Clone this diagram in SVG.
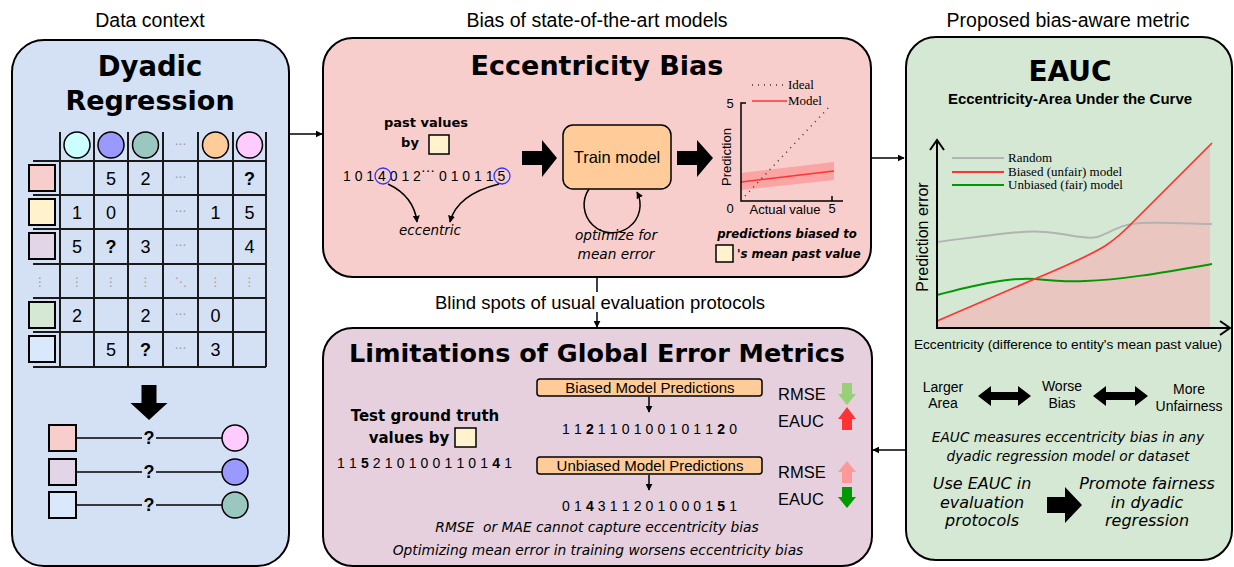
<svg xmlns="http://www.w3.org/2000/svg" width="1234" height="567" viewBox="0 0 1234 567">
<defs>
<marker id="ah" viewBox="0 0 10 10" refX="9" refY="5" markerWidth="7" markerHeight="7" orient="auto-start-reverse" markerUnits="userSpaceOnUse">
<path d="M0,0 L10,5 L0,10 Z" fill="#000"/>
</marker>
<marker id="ahs" viewBox="0 0 10 10" refX="9" refY="5" markerWidth="7" markerHeight="7" orient="auto" markerUnits="userSpaceOnUse">
<path d="M0,0 L10,5 L0,10 Z" fill="#000"/>
</marker>
</defs>
<style>
.hdr{font-family:"Liberation Sans",Arial,sans-serif;font-size:19.5px;fill:#000;text-anchor:middle}
.ttl{font-family:"DejaVu Sans",Verdana,sans-serif;font-weight:bold;fill:#000;text-anchor:middle}
.num{font-family:"Liberation Sans",Arial,sans-serif;font-size:18px;fill:#000;text-anchor:middle}
.q{font-family:"Liberation Sans",Arial,sans-serif;font-size:18px;font-weight:bold;fill:#000;text-anchor:middle}
.dot{font-family:"DejaVu Sans",sans-serif;font-size:12px;fill:#999;text-anchor:middle}
.grid{stroke:#1a1a1a;stroke-width:2;fill:none}
.sq{stroke:#000;stroke-width:2}
.it{font-family:"DejaVu Sans",Verdana,sans-serif;font-style:italic;fill:#000;text-anchor:middle}
.bd{font-family:"DejaVu Sans",Verdana,sans-serif;font-weight:bold;fill:#000;text-anchor:middle}
.sans{font-family:"Liberation Sans",Arial,sans-serif;fill:#000}
.ser{font-family:"Liberation Serif","Times New Roman",serif;fill:#000}
.seq{font-family:"Liberation Sans",Arial,sans-serif;font-size:14px;fill:#000}
.panel{stroke:#000;stroke-width:2}
.conn{stroke:#000;stroke-width:1.5;fill:none}
.yel{fill:#fff2cc;stroke:#000;stroke-width:1.5}
.obox{fill:#ffcc99;stroke:#000;stroke-width:1.5}
</style>
<rect width="1234" height="567" fill="#fff"/>

<!-- headers -->
<text class="hdr" x="150" y="27">Data context</text>
<text class="hdr" x="597" y="27">Bias of state-of-the-art models</text>
<text class="hdr" x="1068" y="27">Proposed bias-aware metric</text>

<!-- LEFT PANEL -->
<g id="data-context">
<rect class="panel" x="12" y="40" width="277" height="526" rx="32" fill="#d4e1f5"/>
<text class="ttl" x="150" y="76" font-size="27.5">Dyadic</text>
<text class="ttl" x="150" y="110" font-size="27">Regression</text>
<g id="matrix">
<path class="grid" d="M60,132V367 M94,132V367 M128,132V367 M163,132V367 M198,132V367 M233,132V367 M266,132V367 M33,161H266 M33,195H266 M33,229H266 M33,264H266 M33,298H266 M33,332H266 M33,367H266"/>
<circle cx="77" cy="145" r="13" fill="#ccffff" stroke="#000" stroke-width="1.5"/>
<circle cx="111" cy="145" r="13" fill="#9999ff" stroke="#000" stroke-width="1.5"/>
<circle cx="145.5" cy="145" r="13" fill="#9ac7bf" stroke="#000" stroke-width="1.5"/>
<text class="dot" x="180.5" y="149">···</text>
<circle cx="215.5" cy="145" r="13" fill="#ffcc99" stroke="#000" stroke-width="1.5"/>
<circle cx="249.5" cy="145" r="13" fill="#ffccff" stroke="#000" stroke-width="1.5"/>
<rect class="sq" x="29" y="165" width="26" height="26" fill="#f8cecc"/>
<rect class="sq" x="29" y="199" width="26" height="26" fill="#fff2cc"/>
<rect class="sq" x="29" y="233" width="26" height="26" fill="#e1d5e7"/>
<rect class="sq" x="29" y="302" width="26" height="26" fill="#d5e8d4"/>
<rect class="sq" x="29" y="336" width="26" height="26" fill="#dae8fc"/>
<!-- row 1 -->
<text class="num" x="111" y="185">5</text><text class="num" x="145.5" y="185">2</text><text class="dot" x="180.5" y="182">···</text><text class="q" x="249.5" y="185">?</text>
<!-- row 2 -->
<text class="num" x="77" y="219">1</text><text class="num" x="111" y="219">0</text><text class="dot" x="180.5" y="216">···</text><text class="num" x="215.5" y="219">1</text><text class="num" x="249.5" y="219">5</text>
<!-- row 3 -->
<text class="num" x="77" y="253">5</text><text class="q" x="111" y="253">?</text><text class="num" x="145.5" y="253">3</text><text class="dot" x="180.5" y="250">···</text><text class="num" x="249.5" y="253">4</text>
<!-- row 4 dots -->
<text class="dot" x="40" y="286">⋮</text><text class="dot" x="77" y="286">⋮</text><text class="dot" x="111" y="286">⋮</text><text class="dot" x="145.5" y="286">⋮</text><text class="dot" x="180.5" y="286">⋱</text><text class="dot" x="215.5" y="286">⋮</text><text class="dot" x="249.5" y="286">⋮</text>
<!-- row 5 -->
<text class="num" x="77" y="322">2</text><text class="num" x="145.5" y="322">2</text><text class="dot" x="180.5" y="319">···</text><text class="num" x="215.5" y="322">0</text>
<!-- row 6 -->
<text class="num" x="111" y="356">5</text><text class="q" x="145.5" y="356">?</text><text class="dot" x="180.5" y="353">···</text><text class="num" x="215.5" y="356">3</text>
</g>
<polygon points="141.5,385 156.5,385 156.5,403 167.5,403 149,420 130.5,403 141.5,403" fill="#000"/>
<g id="pairs">
<path d="M76,438H222 M76,472H222 M76,505H222" stroke="#000" stroke-width="1.5"/>
<rect class="sq" x="49" y="425" width="27" height="26" fill="#f8cecc"/>
<rect class="sq" x="49" y="459" width="27" height="26" fill="#e1d5e7"/>
<rect class="sq" x="49" y="492" width="27" height="26" fill="#dae8fc"/>
<circle cx="235" cy="438" r="13" fill="#ffccff" stroke="#000" stroke-width="1.5"/>
<circle cx="235" cy="472" r="13" fill="#9999ff" stroke="#000" stroke-width="1.5"/>
<circle cx="235" cy="505" r="13" fill="#9ac7bf" stroke="#000" stroke-width="1.5"/>
<rect x="142" y="430" width="14" height="16" fill="#d4e1f5"/>
<rect x="142" y="464" width="14" height="16" fill="#d4e1f5"/>
<rect x="142" y="497" width="14" height="16" fill="#d4e1f5"/>
<text class="q" x="149" y="444" font-size="16">?</text>
<text class="q" x="149" y="478" font-size="16">?</text>
<text class="q" x="149" y="511" font-size="16">?</text>
</g>
</g>

<!-- ECCENTRICITY BIAS PANEL -->
<g id="eccentricity-bias">
<rect class="panel" x="323" y="38" width="548" height="239" rx="30" fill="#f8cecc"/>
<text class="ttl" x="597" y="75" font-size="27">Eccentricity Bias</text>
<text class="bd" x="426" y="127" font-size="13">past values</text>
<text class="bd" x="410" y="147" font-size="13">by</text>
<rect class="yel" x="429" y="135" width="20" height="19"/>
<text class="seq" x="343" y="181">1 0 1 4 0 1 2</text>
<text class="seq" x="428" y="175" text-anchor="middle" font-size="10">···</text>
<text class="seq" x="439" y="181">0 1 0 1 1 5</text>
<circle cx="383" cy="176" r="8" fill="none" stroke="#3333ff" stroke-width="1.3"/>
<circle cx="502" cy="176" r="8" fill="none" stroke="#3333ff" stroke-width="1.3"/>
<path class="conn" d="M388,184 C405,192 415,205 417,222" stroke-width="1" marker-end="url(#ahs)"/>
<path class="conn" d="M499,184 C475,190 455,202 450,222" stroke-width="1" marker-end="url(#ahs)"/>
<text class="it" x="430" y="235" font-size="13.5">eccentric</text>
<polygon points="522,151 542,151 542,140 557,158 542,177 542,165 522,165" fill="#000"/>
<g id="train-model">
<rect class="obox" x="563" y="125" width="108" height="64" rx="10"/>
<text class="sans" x="617" y="163" font-size="16.5" text-anchor="middle">Train model</text>
<path class="conn" d="M589,189 A28,28 0 1 0 637,192" marker-end="url(#ahs)"/>
</g>
<text class="it" x="616" y="240" font-size="13.7">optimize for</text>
<text class="it" x="616" y="259" font-size="13.7">mean error</text>
<polygon points="677,151 697,151 697,140 713,158 697,177 697,165 677,165" fill="#000"/>
<g id="mini-plot">
<polygon points="741,173 834,162 834,180 741,190" fill="#ff5555" fill-opacity="0.35"/>
<line x1="741" y1="182" x2="834" y2="171" stroke="#ff3333" stroke-width="1.5"/>
<line x1="745" y1="196" x2="831" y2="105" stroke="#333" stroke-width="1.5" stroke-dasharray="1 5"/>
<path d="M746,103H741V201H843 M832,201V196" fill="none" stroke="#000" stroke-width="1.5"/>
<text class="sans" x="730" y="108" font-size="13" text-anchor="middle">5</text>
<text class="sans" x="730" y="213" font-size="13" text-anchor="middle">0</text>
<text class="sans" x="832" y="213" font-size="13" text-anchor="middle">5</text>
<text class="sans" x="785" y="214" font-size="13" text-anchor="middle">Actual value</text>
<text class="sans" font-size="13" text-anchor="middle" transform="translate(731,157) rotate(-90)">Prediction</text>
<line x1="752" y1="85" x2="787" y2="85" stroke="#333" stroke-width="1.5" stroke-dasharray="1 5"/>
<text class="ser" x="788" y="89" font-size="13">Ideal</text>
<line x1="752" y1="101" x2="787" y2="101" stroke="#ff3333" stroke-width="1.5"/>
<text class="ser" x="788" y="105" font-size="13">Model</text>
</g>
<text x="787" y="238" font-family="DejaVu Sans,Verdana,sans-serif" font-weight="bold" font-style="italic" font-size="11.7" text-anchor="middle">predictions biased to</text>
<rect class="yel" x="716" y="245" width="17" height="17"/>
<text x="737" y="258" font-family="DejaVu Sans,Verdana,sans-serif" font-weight="bold" font-style="italic" font-size="11.7">'s mean past value</text>
</g>

<!-- LIMITATIONS PANEL -->
<g id="limitations">
<rect class="panel" x="323" y="328" width="549" height="238" rx="30" fill="#e6d0de"/>
<text class="ttl" x="597" y="362" font-size="25.5">Limitations of Global Error Metrics</text>
<text class="bd" x="425" y="421" font-size="15">Test ground truth</text>
<text class="bd" x="409" y="443" font-size="15">values by</text>
<rect class="yel" x="455" y="428" width="21" height="19"/>
<text class="seq" x="337" y="468" textLength="175" lengthAdjust="spacing">1 1 <tspan font-weight="bold">5</tspan> 2 1 0 1 0 0 1 1 0 1 <tspan font-weight="bold">4</tspan> 1</text>
<g id="biased-box">
<rect class="obox" x="537" y="379" width="225" height="17" rx="3"/>
<text class="sans" x="650" y="393" font-size="15" text-anchor="middle">Biased Model Predictions</text>
</g>
<line class="conn" x1="649" y1="397" x2="649" y2="412" stroke-width="1.2" marker-end="url(#ahs)"/>
<text class="seq" x="562" y="434" textLength="175" lengthAdjust="spacing">1 1 <tspan font-weight="bold">2</tspan> 1 1 0 1 0 0 1 0 1 1 <tspan font-weight="bold">2</tspan> 0</text>
<g id="unbiased-box">
<rect class="obox" x="537" y="457" width="225" height="17" rx="3"/>
<text class="sans" x="650" y="471" font-size="15" text-anchor="middle">Unbiased Model Predictions</text>
</g>
<line class="conn" x1="649" y1="475" x2="649" y2="490" stroke-width="1.2" marker-end="url(#ahs)"/>
<text class="seq" x="562" y="511" textLength="175" lengthAdjust="spacing">0 1 <tspan font-weight="bold">4</tspan> 3 1 1 2 0 1 0 0 0 1 <tspan font-weight="bold">5</tspan> 1</text>
<text class="sans" x="778" y="400" font-size="16.5">RMSE</text>
<text class="sans" x="778" y="427" font-size="16.5">EAUC</text>
<text class="sans" x="778" y="478" font-size="16.5">RMSE</text>
<text class="sans" x="778" y="505" font-size="16.5">EAUC</text>
<polygon points="842,383 852,383 852,394 856,394 847,405 838,394 842,394" fill="#97d077"/>
<polygon points="842,430 852,430 852,419 856,419 847,407 838,419 842,419" fill="#ff3333"/>
<polygon points="842,483 852,483 852,472 856,472 847,461 838,472 842,472" fill="#ff9999"/>
<polygon points="842,487 852,487 852,497 856,497 847,508 838,497 842,497" fill="#009900"/>
<text class="it" x="597" y="532" font-size="13.8" xml:space="preserve">RMSE  or MAE cannot capture eccentricity bias</text>
<text class="it" x="598" y="555" font-size="13.8">Optimizing mean error in training worsens eccentricity bias</text>
</g>

<!-- EAUC PANEL -->
<g id="eauc">
<rect class="panel" x="906" y="37" width="326" height="523" rx="30" fill="#d5e8d4"/>
<text class="ttl" x="1070" y="81" font-size="28">EAUC</text>
<text class="sans" x="1070" y="104" font-size="15" font-weight="bold" text-anchor="middle">Eccentricity-Area Under the Curve</text>
<g id="eauc-plot">
<path d="M937,321 L1037,278 Q1085,258 1105,246 Q1120,236 1135,220 L1210,145 L1210,328 L937,328 Z" fill="#e9c6bf"/>
<path d="M937,242 C985,236 1020,230 1045,232 C1070,234 1085,240 1097,237 C1110,233 1120,224 1140,223 C1170,222 1195,224 1212,224" fill="none" stroke="#b3b3b3" stroke-width="2"/>
<path d="M937,295 C975,285 1010,277 1035,279 C1055,281 1070,282 1085,281 C1120,280 1160,273 1212,264" fill="none" stroke="#009900" stroke-width="2"/>
<path d="M937,321 L1037,278 Q1085,258 1105,246 Q1120,236 1135,220 L1212,143" fill="none" stroke="#ff3333" stroke-width="1.7"/>
<path d="M937,140V328H1230 M930,150L937,140L944,150 M1220,321L1230,328L1220,335" fill="none" stroke="#000" stroke-width="2"/>
<line x1="952" y1="158" x2="1004" y2="158" stroke="#b3b3b3" stroke-width="2"/>
<text class="ser" x="1008" y="162" font-size="13">Random</text>
<line x1="952" y1="172" x2="1004" y2="172" stroke="#ff3333" stroke-width="2"/>
<text class="ser" x="1008" y="176" font-size="13">Biased (unfair) model</text>
<line x1="952" y1="185" x2="1004" y2="185" stroke="#009900" stroke-width="2"/>
<text class="ser" x="1008" y="189" font-size="13">Unbiased (fair) model</text>
<text class="sans" font-size="16" text-anchor="middle" transform="translate(928,237) rotate(-90)">Prediction error</text>
<text class="sans" x="1068" y="349" font-size="13.7" text-anchor="middle">Eccentricity (difference to entity's mean past value)</text>
</g>
<text class="sans" x="943" y="392" font-size="14" text-anchor="middle">Larger</text>
<text class="sans" x="943" y="408" font-size="14" text-anchor="middle">Area</text>
<polygon points="978,396 991,386 991,392 1018,392 1018,386 1031,396 1018,406 1018,400 991,400 991,406" fill="#000"/>
<text class="sans" x="1062" y="391" font-size="14" text-anchor="middle">Worse</text>
<text class="sans" x="1062" y="408" font-size="14" text-anchor="middle">Bias</text>
<polygon points="1093,396 1106,386 1106,392 1135,392 1135,386 1148,396 1135,406 1135,400 1106,400 1106,406" fill="#000"/>
<text class="sans" x="1189" y="394" font-size="14" text-anchor="middle">More</text>
<text class="sans" x="1189" y="411" font-size="14" text-anchor="middle">Unfairness</text>
<text class="it" x="1068" y="442" font-size="13.7">EAUC measures eccentricity bias in any</text>
<text class="it" x="1068" y="461" font-size="13.7">dyadic regression model or dataset</text>
<text class="it" x="982" y="489" font-size="16">Use EAUC in</text>
<text class="it" x="982" y="508" font-size="16">evaluation</text>
<text class="it" x="982" y="526" font-size="16">protocols</text>
<polygon points="1047,497 1065,497 1065,487 1082,505 1065,523 1065,513 1047,513" fill="#000"/>
<text class="it" x="1147" y="489" font-size="16">Promote fairness</text>
<text class="it" x="1147" y="508" font-size="16">in dyadic</text>
<text class="it" x="1147" y="526" font-size="16">regression</text>
</g>

<!-- CONNECTORS -->
<g id="connectors">
<line class="conn" x1="289" y1="134" x2="322" y2="134" marker-end="url(#ah)"/>
<line class="conn" x1="871" y1="158" x2="904" y2="158" marker-end="url(#ah)"/>
<line class="conn" x1="597" y1="277" x2="597" y2="292"/>
<line class="conn" x1="597" y1="312" x2="597" y2="327" marker-end="url(#ah)"/>
<text class="sans" x="600" y="309" font-size="18.5" text-anchor="middle">Blind spots of usual evaluation protocols</text>
<line class="conn" x1="905" y1="450" x2="873" y2="450" marker-end="url(#ah)"/>
</g>
</svg>
